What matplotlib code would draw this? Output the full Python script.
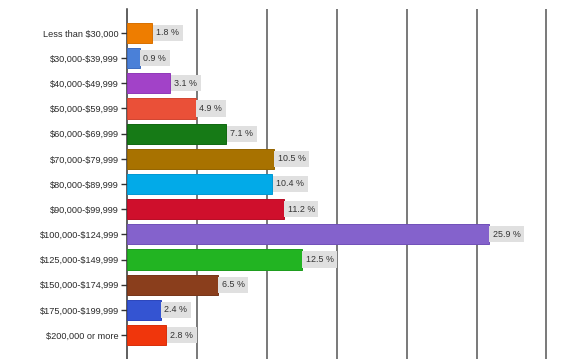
import matplotlib
matplotlib.use("Agg")
import matplotlib.pyplot as plt

plt.rcParams["text.parse_math"] = False

categories = ["Less than $30,000", "$30,000-$39,999", "$40,000-$49,999", "$50,000-$59,999",
              "$60,000-$69,999", "$70,000-$79,999", "$80,000-$89,999", "$90,000-$99,999",
              "$100,000-$124,999", "$125,000-$149,999", "$150,000-$174,999",
              "$175,000-$199,999", "$200,000 or more"]
values = [1.8, 0.9, 3.1, 4.9, 7.1, 10.5, 10.4, 11.2, 25.9, 12.5, 6.5, 2.4, 2.8]
colors = ["#ee7d00", "#4a80d8", "#a242c8", "#ea5038", "#167a16", "#a87200", "#02aae8",
          "#cf0f2c", "#8462cc", "#22b422", "#8a3e1c", "#3454d2", "#f0360c"]
edges = ["#d87000", "#3c6cc0", "#9038b8", "#d04430", "#106810", "#946400", "#0098d4",
         "#b80c24", "#7050b8", "#1c9c1c", "#763418", "#2a44bc", "#d82e0a"]

fig = plt.figure(figsize=(5.8, 3.59), dpi=100)
ax = fig.add_axes([127/580, 0.0, 1 - 127/580, 1 - 9/359])
y = list(range(len(categories)))
ax.barh(y, values, height=0.8, color=colors, edgecolor=edges, linewidth=0.7, zorder=3)
for yi, v in zip(y, values):
    ax.text(v + 0.28, yi, f"{v} %", va="center", ha="left", fontsize=6.4,
            family="Liberation Sans", color="#333333", zorder=4,
            bbox=dict(boxstyle="square,pad=0.4", fc="#e0e0e0", ec="none"))
ax.set_yticks(y)
ax.set_yticklabels(categories, fontsize=6.6, family="Liberation Sans", color="#2a2a2a")
ax.set_ylim(12.95, -0.95)
ax.set_xlim(0, 32.4)
ax.set_xticks([5, 10, 15, 20, 25, 30])
ax.tick_params(axis="x", length=0, labelbottom=False)
ax.tick_params(axis="y", length=4, width=1, color="#333333", pad=2)
ax.grid(axis="x", color="#555555", linewidth=1.1, zorder=0)
for s in ["top", "right", "bottom"]:
    ax.spines[s].set_visible(False)
ax.spines["left"].set_color("#333333")
ax.spines["left"].set_linewidth(1.1)
fig.savefig("out.png", dpi=100)
